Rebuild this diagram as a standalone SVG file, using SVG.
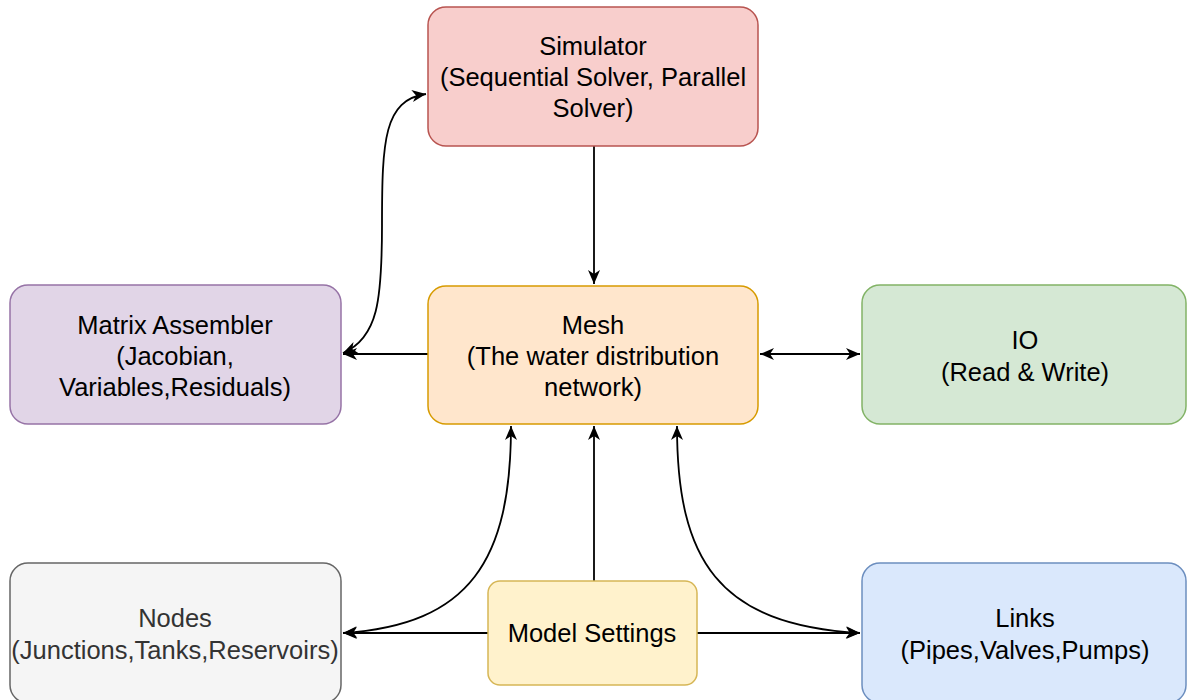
<svg xmlns="http://www.w3.org/2000/svg" width="1187" height="700" viewBox="0 0 1187 700">
  <style>
    .box { stroke-width: 1.5; }
    .lbl { font-family: "Liberation Sans", Arial, sans-serif; font-size: 25.5px; text-anchor: middle; fill: #000000; }
    .grey { fill: #333333; }
    .edge { fill: none; stroke: #000000; stroke-width: 1.8; }
  </style>
  <defs>
    <marker id="arrow" markerUnits="userSpaceOnUse" markerWidth="16" markerHeight="16" viewBox="0 0 16 16" refX="15" refY="8" orient="auto-start-reverse">
      <path d="M1,2 L15,8 L1,14 L5,8 Z" fill="#000000"/>
    </marker>
  </defs>
  <rect width="1187" height="700" fill="#ffffff"/>

  <g id="connectors">
    <!-- Simulator to Mesh -->
    <path class="edge" d="M594,146 L594,284" marker-end="url(#arrow)"/>
    <!-- Mesh to Matrix Assembler -->
    <path class="edge" d="M428,354 L343,354" marker-end="url(#arrow)"/>
    <!-- Mesh and IO -->
    <path class="edge" d="M760,354 L860,354" marker-start="url(#arrow)" marker-end="url(#arrow)"/>
    <!-- Matrix Assembler and Simulator -->
    <path class="edge" d="M343,353 C378,338 382,300 382,225 C382,140 384,100 426,94" marker-start="url(#arrow)" marker-end="url(#arrow)"/>
    <!-- Model Settings to Mesh -->
    <path class="edge" d="M594,581 L594,426" marker-end="url(#arrow)"/>
    <!-- Model Settings to Nodes and Links -->
    <path class="edge" d="M488,633 L343,633" marker-end="url(#arrow)"/>
    <path class="edge" d="M697,633 L860,633" marker-end="url(#arrow)"/>
    <!-- Mesh and Nodes -->
    <path class="edge" d="M511,426 C511,560 470,625 343,633" marker-start="url(#arrow)" marker-end="url(#arrow)"/>
    <!-- Mesh and Links -->
    <path class="edge" d="M677,426 C677,560 718,625 860,633" marker-start="url(#arrow)" marker-end="url(#arrow)"/>
  </g>

  <g id="simulator">
    <rect class="box" x="428" y="7" width="330" height="139" rx="18" fill="#f8cecc" stroke="#b85450"/>
    <text class="lbl" x="593" y="55">Simulator</text>
    <text class="lbl" x="593" y="86">(Sequential Solver, Parallel</text>
    <text class="lbl" x="593" y="117">Solver)</text>
  </g>

  <g id="mesh">
    <rect class="box" x="428" y="286" width="330" height="138" rx="18" fill="#ffe6cc" stroke="#d79b00"/>
    <text class="lbl" x="593" y="334">Mesh</text>
    <text class="lbl" x="593" y="365">(The water distribution</text>
    <text class="lbl" x="593" y="396">network)</text>
  </g>

  <g id="matrix-assembler">
    <rect class="box" x="10" y="285" width="331" height="139" rx="18" fill="#e1d5e7" stroke="#9673a6"/>
    <text class="lbl" x="175" y="334">Matrix Assembler</text>
    <text class="lbl" x="175" y="365">(Jacobian,</text>
    <text class="lbl" x="175" y="396">Variables,Residuals)</text>
  </g>

  <g id="io">
    <rect class="box" x="862" y="285" width="324" height="139" rx="18" fill="#d5e8d4" stroke="#82b366"/>
    <text class="lbl" x="1025" y="349">IO</text>
    <text class="lbl" x="1025" y="381">(Read &amp; Write)</text>
  </g>

  <g id="nodes">
    <rect class="box" x="10" y="563" width="331" height="140" rx="18" fill="#f5f5f5" stroke="#666666"/>
    <text class="lbl grey" x="175" y="627">Nodes</text>
    <text class="lbl grey" x="175" y="659">(Junctions,Tanks,Reservoirs)</text>
  </g>

  <g id="model-settings">
    <rect class="box" x="488" y="581" width="209" height="104" rx="12" fill="#fff2cc" stroke="#d6b656"/>
    <text class="lbl" x="592" y="642">Model Settings</text>
  </g>

  <g id="links">
    <rect class="box" x="862" y="563" width="324" height="140" rx="18" fill="#dae8fc" stroke="#6c8ebf"/>
    <text class="lbl" x="1025" y="627">Links</text>
    <text class="lbl" x="1025" y="659">(Pipes,Valves,Pumps)</text>
  </g>
</svg>
